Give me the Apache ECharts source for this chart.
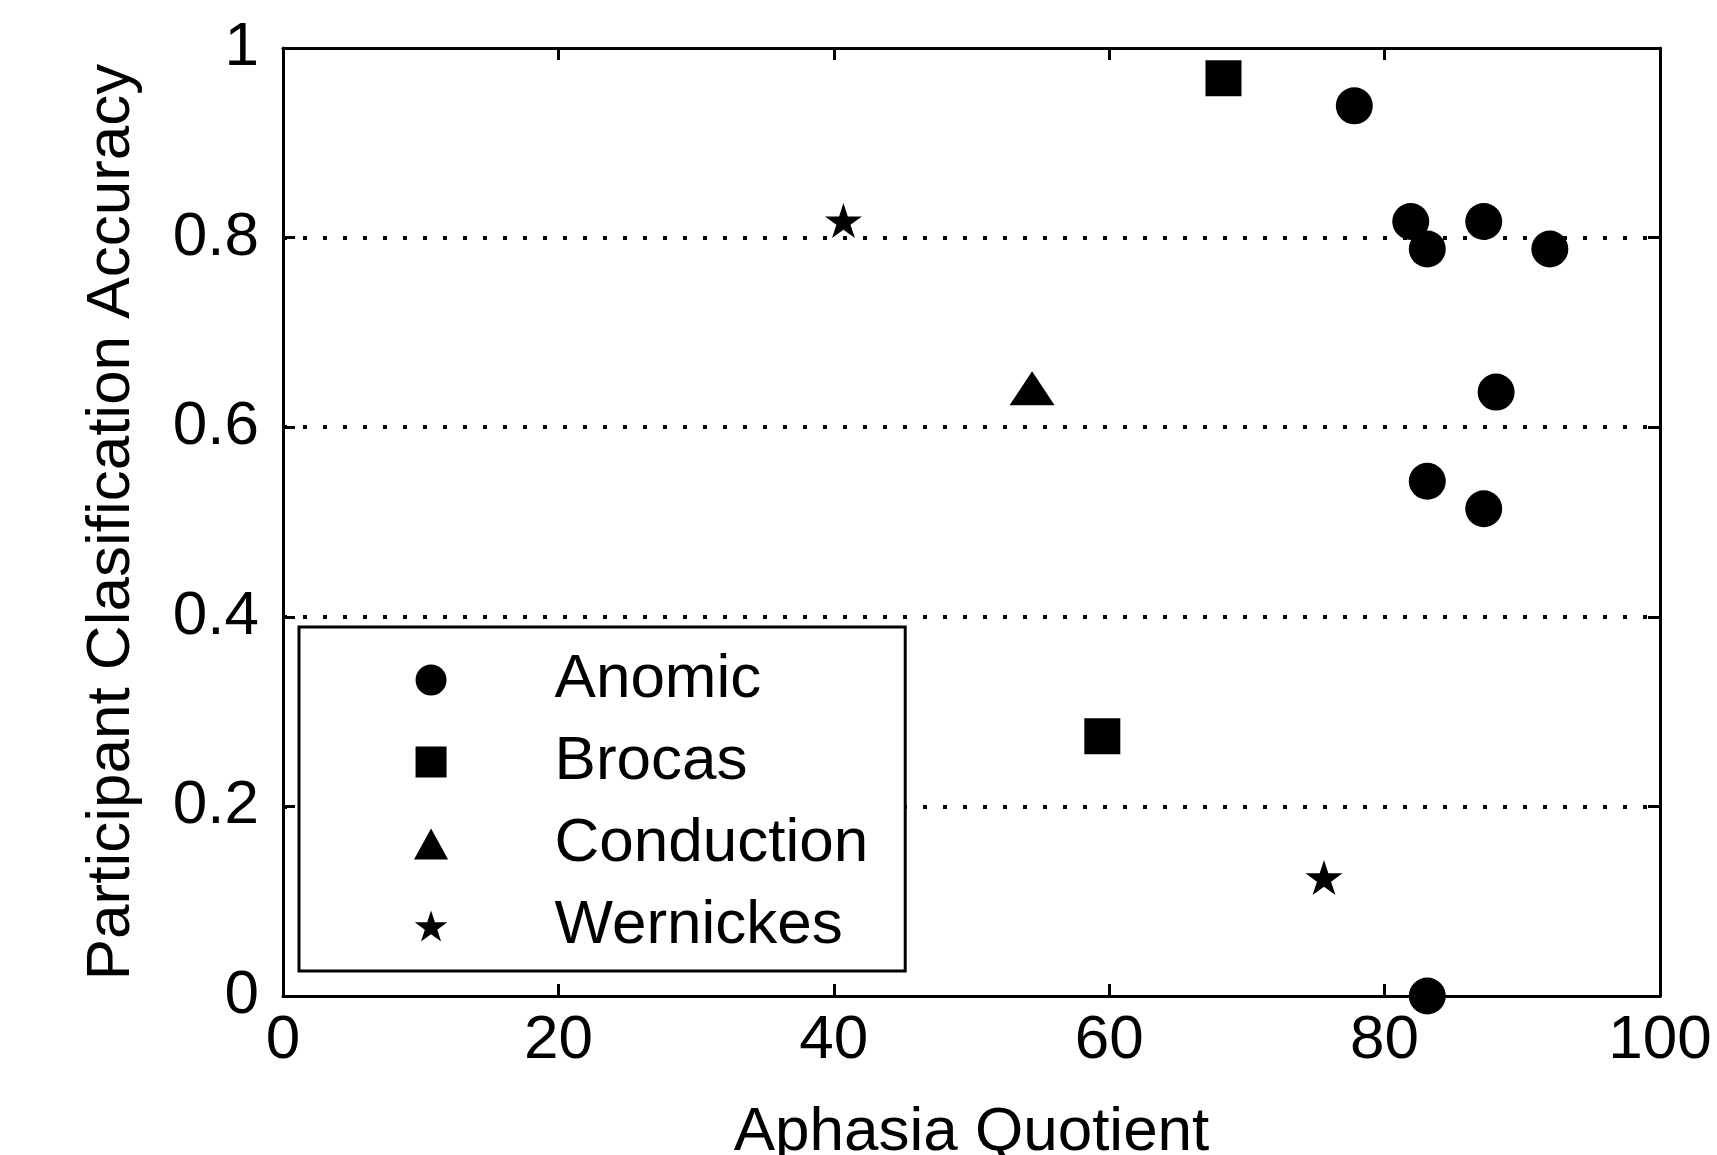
<!DOCTYPE html>
<html>
<head>
<meta charset="utf-8">
<script src="https://cdn.jsdelivr.net/npm/echarts@6/dist/echarts.min.js"></script>
<style>
html,body{margin:0;padding:0;background:#fff;}
#c{width:1717px;height:1155px;}
</style>
</head>
<body>
<div id="c"></div>
<script>
// ---- data ----
const seriesNames = ['Anomic', 'Brocas', 'Conduction', 'Wernickes'];
const anomicX = [77.8, 81.9, 83.1, 87.2, 92.0, 88.1, 83.1, 87.2, 83.1];
const anomicY = [0.939, 0.817, 0.788, 0.817, 0.788, 0.637, 0.543, 0.514, 0.0];
const brocasX = [68.3, 59.5];
const brocasY = [0.968, 0.274];
const conductionX = [54.4];
const conductionY = [0.641];
const wernickesX = [40.7, 75.6];
const wernickesY = [0.818, 0.125];
const xTicks = [0, 20, 40, 60, 80, 100];
const yTicks = [0, 0.2, 0.4, 0.6, 0.8, 1];
const xTitle = 'Aphasia Quotient';
const yTitle = 'Participant Clasification Accuracy';

const pairs = (xs, ys) => xs.map((x, i) => [x, ys[i]]);
const FONT = 'Liberation Sans';
const starPath = 'path://M0,-100 L22.45,-30.9 L95.1,-30.9 L36.33,11.8 L58.78,80.9 L0,38.2 L-58.78,80.9 L-36.33,11.8 L-95.1,-30.9 L-22.45,-30.9 Z';
const squarePath = 'path://M0,0 L100,0 L100,100 L0,100 Z';
const trianglePath = 'path://M55,0 L110,100 L0,100 Z';

const axisLine = {show: true, onZero: false, lineStyle: {color: '#000', width: 3}};
const axisTick = {show: true, inside: true, length: 12, lineStyle: {color: '#000', width: 3}};
const markStyle = {color: '#000', opacity: 1};

const chart = echarts.init(document.getElementById('c'), null, {renderer: 'canvas'});
chart.setOption({
  animation: false,
  backgroundColor: '#fff',
  textStyle: {fontFamily: FONT, color: '#000'},
  grid: {left: 283, right: 57, top: 48, bottom: 159, containLabel: false, outerBoundsMode: 'none'},
  xAxis: [{
    type: 'value', min: xTicks[0], max: xTicks[xTicks.length - 1], interval: 20, position: 'bottom',
    axisLine: axisLine, axisTick: axisTick,
    axisLabel: {color: '#000', fontSize: 62, fontFamily: FONT, margin: 14},
    splitLine: {show: false},
    name: xTitle, nameLocation: 'middle', nameGap: 106,
    nameTextStyle: {color: '#000', fontSize: 62, fontFamily: FONT}
  }, {
    type: 'value', min: xTicks[0], max: xTicks[xTicks.length - 1], interval: 20, position: 'top',
    axisLine: axisLine, axisTick: axisTick, axisLabel: {show: false}, splitLine: {show: false}
  }],
  yAxis: [{
    type: 'value', min: yTicks[0], max: yTicks[yTicks.length - 1], interval: 0.2, position: 'left',
    axisLine: axisLine, axisTick: axisTick,
    axisLabel: {color: '#000', fontSize: 62, fontFamily: FONT, margin: 24,
      formatter: v => String(Math.round(v * 10) / 10)},
    splitLine: {show: true, showMinLine: false, showMaxLine: false,
      lineStyle: {color: '#000', width: 4, type: [4, 16]}},
    name: yTitle, nameLocation: 'middle', nameGap: 140, nameRotate: 90,
    nameTextStyle: {color: '#000', fontSize: 62, fontFamily: FONT}
  }, {
    type: 'value', min: yTicks[0], max: yTicks[yTicks.length - 1], interval: 0.2, position: 'right',
    axisLine: axisLine, axisTick: axisTick, axisLabel: {show: false}, splitLine: {show: false}
  }],
  legend: {
    data: [
      {name: seriesNames[0], icon: 'circle'},
      {name: seriesNames[1], icon: squarePath},
      {name: seriesNames[2], icon: trianglePath},
      {name: seriesNames[3], icon: starPath}
    ],
    orient: 'vertical',
    left: 299, top: 627,
    padding: [22, 37, 14, 115],
    itemWidth: 37, itemHeight: 31, itemGap: 20,
    symbolKeepAspect: true,
    backgroundColor: '#fff',
    borderColor: '#000', borderWidth: 3,
    selectedMode: false,
    itemStyle: {color: '#000', opacity: 1},
    textStyle: {color: '#000', fontSize: 62, fontFamily: FONT, lineHeight: 62, padding: [0, 0, 0, 100]}
  },
  series: [
    {name: seriesNames[0], type: 'scatter', data: pairs(anomicX, anomicY), symbol: 'circle', symbolSize: 37,
      itemStyle: markStyle, z: 3},
    {name: seriesNames[1], type: 'scatter', data: pairs(brocasX, brocasY), symbol: 'rect', symbolSize: 36,
      itemStyle: markStyle, z: 3},
    {name: seriesNames[2], type: 'scatter', data: pairs(conductionX, conductionY), symbol: 'triangle', symbolSize: [45, 34],
      itemStyle: markStyle, z: 3},
    {name: seriesNames[3], type: 'scatter', data: pairs(wernickesX, wernickesY), symbol: starPath, symbolSize: [37, 35],
      itemStyle: markStyle, z: 3}
  ]
});
</script>
</body>
</html>
